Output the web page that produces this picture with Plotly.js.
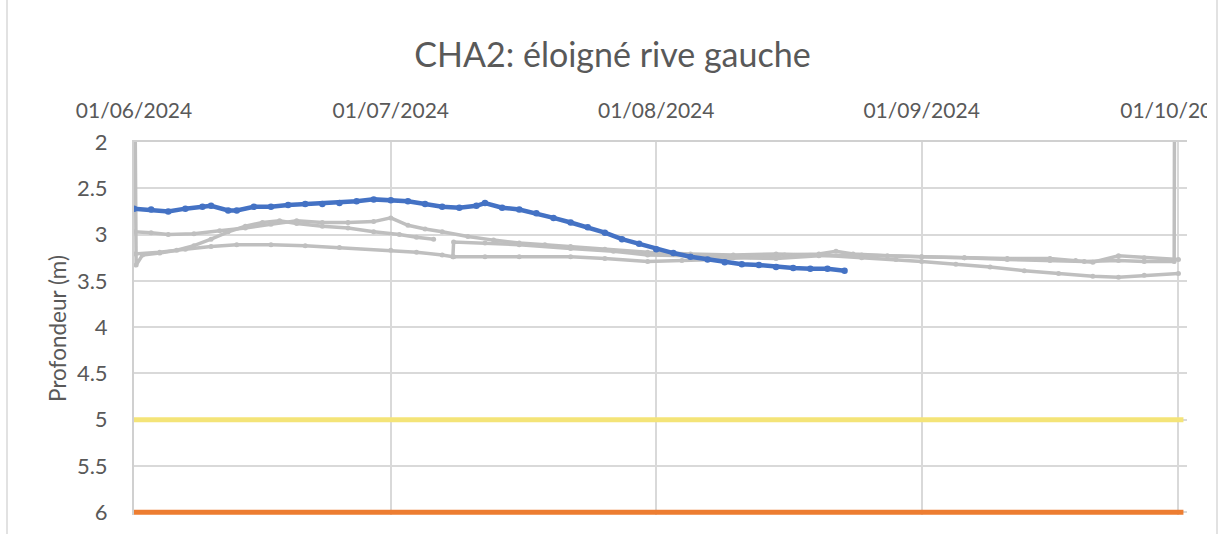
<!DOCTYPE html>
<html>
<head>
<meta charset="utf-8">
<script src="https://cdn.plot.ly/plotly-3.0.1.min.js"></script>
<style>
  html, body { margin: 0; padding: 0; background: #ffffff; }
  #chart { width: 1225px; height: 534px; }
</style>
</head>
<body>
<div id="chart"></div>
<script>
// ---------- DATA ----------
const chartTitle = "CHA2: éloigné rive gauche";
const yTitle = "Profondeur (m)";

// Current year (blue)
const blueDates = ["2024-06-01","2024-06-03","2024-06-05","2024-06-07","2024-06-09","2024-06-10","2024-06-12","2024-06-13","2024-06-15","2024-06-17","2024-06-19","2024-06-21","2024-06-23","2024-06-25","2024-06-27","2024-06-29","2024-07-01","2024-07-03","2024-07-05","2024-07-07","2024-07-09","2024-07-11","2024-07-12","2024-07-14","2024-07-16","2024-07-18","2024-07-20","2024-07-22","2024-07-24","2024-07-26","2024-07-28","2024-07-30","2024-08-01","2024-08-03","2024-08-05","2024-08-07","2024-08-09","2024-08-11","2024-08-13","2024-08-15","2024-08-17","2024-08-19","2024-08-21","2024-08-23"];
const blueDepth = [2.72,2.73,2.75,2.72,2.70,2.69,2.74,2.74,2.70,2.70,2.68,2.67,2.67,2.66,2.64,2.62,2.63,2.64,2.67,2.70,2.71,2.69,2.66,2.71,2.73,2.77,2.82,2.87,2.92,2.98,3.05,3.10,3.16,3.20,3.24,3.27,3.30,3.32,3.33,3.35,3.36,3.37,3.37,3.39];

// Previous years (grey)
const greyADates = ["2024-06-01","2024-06-03","2024-06-05","2024-06-08","2024-06-11","2024-06-14","2024-06-17","2024-06-20","2024-06-23","2024-06-26","2024-06-29","2024-07-01","2024-07-03","2024-07-05","2024-07-07","2024-07-10","2024-07-13","2024-07-16","2024-07-19","2024-07-22","2024-07-26","2024-07-31","2024-08-05","2024-08-10","2024-08-15","2024-08-20","2024-08-25","2024-08-29","2024-09-01","2024-09-05","2024-09-09","2024-09-13","2024-09-17","2024-09-21","2024-09-24","2024-09-27","2024-10-01"];
const greyADepth = [2.97,2.98,3.00,2.99,2.96,2.93,2.89,2.85,2.87,2.87,2.86,2.82,2.90,2.94,2.97,3.02,3.06,3.09,3.11,3.13,3.16,3.19,3.21,3.22,3.21,3.22,3.25,3.27,3.29,3.32,3.35,3.39,3.42,3.45,3.46,3.44,3.42];

const greyBDates = ["2024-06-01 00:00","2024-06-01 06:00","2024-06-02","2024-06-04","2024-06-06","2024-06-08","2024-06-10","2024-06-12","2024-06-14","2024-06-16","2024-06-18","2024-06-20","2024-06-23","2024-06-26","2024-06-29","2024-07-02","2024-07-04","2024-07-06","2024-07-07","2024-07-08 08:00","2024-07-12","2024-07-16","2024-07-22","2024-07-26","2024-07-31","2024-08-04","2024-08-08","2024-08-12","2024-08-16","2024-08-20","2024-08-22","2024-08-24","2024-08-28","2024-09-01","2024-09-06","2024-09-11","2024-09-16","2024-09-19","2024-09-21","2024-09-24","2024-09-27","2024-10-01"];
const greyBDepth = [0,3.33,3.22,3.20,3.17,3.12,3.05,2.97,2.91,2.87,2.85,2.88,2.91,2.93,2.97,3.00,3.03,3.05,null,3.24,3.24,3.24,3.24,3.26,3.29,3.28,3.27,3.24,3.22,3.21,3.18,3.21,3.23,3.24,3.25,3.26,3.26,3.28,3.30,3.23,3.25,3.27];

const greyCDates = ["2024-06-01","2024-06-04","2024-06-07","2024-06-10","2024-06-13","2024-06-17","2024-06-21","2024-06-25","2024-07-01","2024-07-04","2024-07-07","2024-07-08 06:00","2024-07-08 08:00","2024-07-12","2024-07-16","2024-07-22","2024-07-27","2024-07-31","2024-08-05","2024-08-10","2024-08-15","2024-08-20","2024-08-25","2024-09-01","2024-09-06","2024-09-11","2024-09-16","2024-09-20","2024-09-24","2024-09-27","2024-09-30 12:00","2024-09-30 14:00"];
const greyCDepth = [3.21,3.19,3.16,3.13,3.11,3.11,3.12,3.14,3.17,3.19,3.22,3.24,3.08,3.09,3.11,3.15,3.18,3.22,3.23,3.25,3.26,3.23,3.22,3.24,3.25,3.27,3.28,3.29,3.28,3.29,3.29,0];

// Thresholds
const seuilDates = ["2024-06-01","2024-10-01 14:00"];
const seuilJaune = [5, 5];
const seuilOrange = [6, 6];

// Axis
const monthTicks = ["2024-06-01","2024-07-01","2024-08-01","2024-09-01","2024-10-01"];
const monthLabels = ["01/06/2024","01/07/2024","01/08/2024","01/09/2024","01/10/2024"];
const depthTicks = [2, 2.5, 3, 3.5, 4, 4.5, 5, 5.5, 6];

// ---------- LAYOUT ----------
const W = 1225, H = 534;
const M = { l: 134, r: 38, t: 142, b: 19 };
const plotW = W - M.l - M.r, plotH = H - M.t - M.b;
const px2x = p => (p - M.l) / plotW;
const px2y = p => (H - M.b - p) / plotH;

const GREY = "#BFBFBF";
const FONT = "Lato, 'Open Sans', sans-serif";
const TXT = "#595959";

const traces = [
  { x: seuilDates, y: seuilJaune, mode: "lines", line: { color: "#F4E478", width: 5 }, hoverinfo: "skip" },
  { x: seuilDates, y: seuilOrange, mode: "lines", line: { color: "#ED7D31", width: 5 }, hoverinfo: "skip" },
  { x: greyADates, y: greyADepth, mode: "lines+markers", line: { color: GREY, width: 3.5 }, marker: { color: GREY, size: 5 } },
  { x: greyBDates, y: greyBDepth, mode: "lines+markers", line: { color: GREY, width: 3.5 }, marker: { color: GREY, size: 5 }, connectgaps: false },
  { x: greyCDates, y: greyCDepth, mode: "lines+markers", line: { color: GREY, width: 3.5 }, marker: { color: GREY, size: 5 } },
  { x: blueDates, y: blueDepth, mode: "lines+markers", line: { color: "#4472C4", width: 4.5 }, marker: { color: "#4472C4", size: 6.5 } }
];

const layout = {
  width: W, height: H,
  margin: M,
  paper_bgcolor: "#ffffff", plot_bgcolor: "#ffffff",
  showlegend: false,
  title: {
    text: chartTitle,
    font: { family: FONT, size: 34, color: TXT },
    x: 0.5, xref: "container", xanchor: "center",
    y: 1 - 55 / H, yref: "container", yanchor: "middle"
  },
  xaxis: {
    type: "date",
    side: "top",
    range: ["2024-06-01", "2024-10-02"],
    tickmode: "array", tickvals: monthTicks, ticktext: monthLabels,
    ticks: "", ticklabelstandoff: 14, ticklabeloverflow: "allow",
    tickfont: { family: FONT, size: 21, color: TXT },
    showgrid: true, gridcolor: "#D9D9D9", gridwidth: 2,
    showline: true, linecolor: "#D0D0D0", linewidth: 2,
    zeroline: false, fixedrange: true
  },
  yaxis: {
    range: [6.03, 2],
    tickmode: "array", tickvals: depthTicks, ticktext: depthTicks.map(String),
    ticks: "", ticklabelstandoff: 20,
    tickfont: { family: FONT, size: 22, color: TXT },
    title: { text: yTitle, font: { family: FONT, size: 22.5, color: TXT }, standoff: 4 },
    showgrid: true, gridcolor: "#D9D9D9", gridwidth: 2,
    showline: true, linecolor: "#D0D0D0", linewidth: 2,
    zeroline: false, fixedrange: true
  },
  shapes: [
    // mask that clips the last top tick label like the original frame
    { type: "rect", xref: "paper", yref: "paper", layer: "above",
      x0: px2x(1207), x1: px2x(1226), y0: px2y(135), y1: px2y(88),
      fillcolor: "#ffffff", line: { width: 0 } },
    // chart frame borders
    { type: "line", xref: "paper", yref: "paper", layer: "above",
      x0: px2x(7), x1: px2x(7), y0: px2y(0), y1: px2y(H), line: { color: "#D9D9D9", width: 1.5 } },
    { type: "line", xref: "paper", yref: "paper", layer: "above",
      x0: px2x(1217), x1: px2x(1217), y0: px2y(0), y1: px2y(H), line: { color: "#D9D9D9", width: 1.5 } }
  ]
};

Plotly.newPlot("chart", traces, layout, { displayModeBar: false, staticPlot: true });
</script>
</body>
</html>
